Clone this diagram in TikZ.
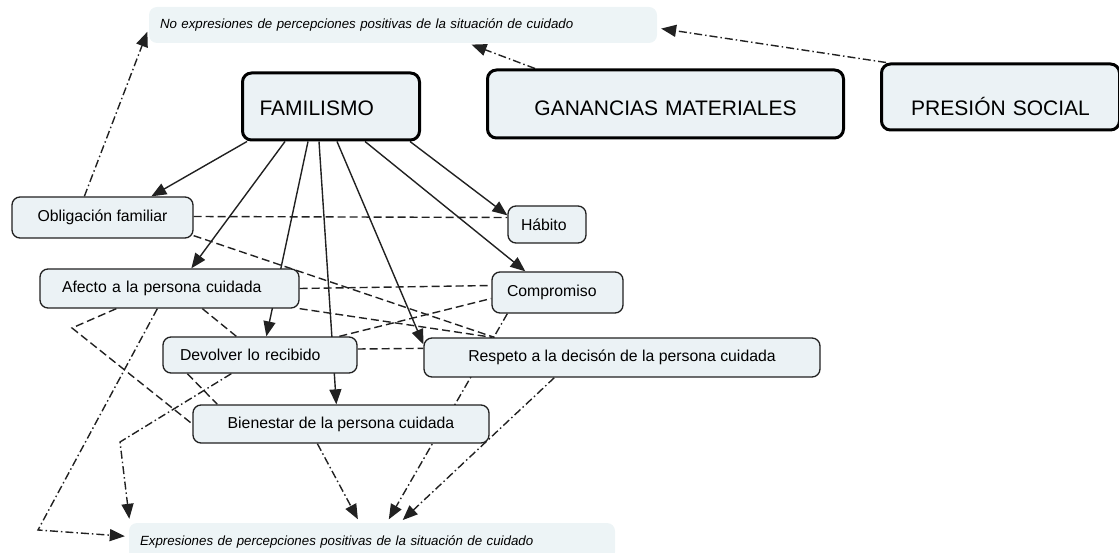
\documentclass[tikz,border=0pt]{standalone}
\usepackage{fontspec}
\setmainfont{Liberation Sans}
\usetikzlibrary{arrows.meta,calc}
\definecolor{BoxClr}{rgb}{0.92,0.95,0.96}
\definecolor{OutClr}{rgb}{0.93,0.955,0.965}
\definecolor{LineClr}{rgb}{0.13,0.13,0.13}
\pgfdeclarelayer{background}
\pgfsetlayers{background,main}

\begin{document}
\begin{tikzpicture}[x=1pt,y=-1pt,
  bigbox/.style={draw=black,line width=3pt,fill=BoxClr,rounded corners=9pt,inner sep=0pt,
    anchor=base west,font=\fontsize{21}{24}\selectfont},
  smallbox/.style={draw=LineClr,line width=1.3pt,fill=BoxClr,rounded corners=8pt,inner sep=0pt,
    font=\fontsize{15.8}{18}\selectfont},
  leftbox/.style={smallbox,align=left,inner xsep=#1},
  outbox/.style={fill=OutClr,rounded corners=8pt,inner xsep=11pt,inner ysep=0pt,align=left,
    font=\itshape\fontsize{13.3}{15}\selectfont},
  famarrow/.style={line width=1.4pt,draw=LineClr,-{Triangle[length=15pt,width=12pt]}},
  dashlink/.style={line width=1.4pt,draw=LineClr,dash pattern=on 8pt off 4pt},
  outarrow/.style={line width=1.4pt,draw=LineClr,dash pattern=on 8pt off 3pt on 1.5pt off 3pt,
    -{Triangle[length=15pt,width=12pt]},shorten >=4pt}]
\useasboundingbox (0,0) rectangle (1119,553);
\clip (0,0) rectangle (1119,553);

\node[outbox,text width=486pt,minimum height=36pt] (noexp) at (403,25)
  {No expresiones de percepciones positivas de la situación de cuidado};
\node[outbox,text width=464pt,minimum height=37pt] (exppos) at (372,541.5)
  {Expresiones de percepciones positivas de la situación de cuidado};

\node[bigbox,text width=143pt,inner xsep=17pt,align=left,text height=43pt,text depth=24pt] (fam) at (241,116) {FAMILISMO};
\node[bigbox,text width=356pt,align=center,text height=46pt,text depth=22pt] (gan) at (486,116) {GANANCIAS MATERIALES};
\node[bigbox,text width=238pt,align=center,text height=52pt,text depth=14pt] (pre) at (880,116) {PRESIÓN SOCIAL};

\node[smallbox,minimum width=181pt,minimum height=41pt] (obl) at (102.5,217.5) {Obligación familiar};
\node[leftbox=22pt,text width=215pt,minimum height=39pt] (afe) at (169.5,288.5) {Afecto a la persona cuidada};
\node[leftbox=17pt,text width=160pt,minimum height=36pt] (dev) at (260,355) {Devolver lo recibido};
\node[smallbox,minimum width=296pt,minimum height=38pt] (bie) at (341,424) {Bienestar de la persona cuidada};
\node[leftbox=13pt,text width=52pt,minimum height=37pt] (hab) at (547,224.5) {Hábito};
\node[leftbox=15pt,text width=101pt,minimum height=41pt] (com) at (557.5,292.5) {Compromiso};
\node[smallbox,minimum width=396pt,minimum height=39pt] (res) at (622,357.5) {Respeto a la decisón de la persona cuidada};

\coordinate (bendA) at (72,328);
\coordinate (bendB) at (120,442);
\coordinate (bendC) at (38,530);

\begin{pgfonlayer}{background}
% familismo
\draw[famarrow] ([xshift=6]fam.south west) -- ([xshift=140]obl.north west);
\draw[famarrow] ([xshift=44]fam.south west) -- ([xshift=152]afe.north west);
\draw[famarrow] ([xshift=67]fam.south west) -- ([xshift=104]dev.north west);
\draw[famarrow] ([xshift=78]fam.south west) -- ([xshift=144]bie.north west);
\draw[famarrow] ([xshift=96]fam.south west) -- ([yshift=-7]res.north west);
\draw[famarrow] ([xshift=124]fam.south west) -- ([xshift=34]com.north west);
\draw[famarrow] ([xshift=169]fam.south west) -- ([yshift=-10]hab.north west);

\draw[dashlink] ([yshift=1]obl.east) -- ([yshift=7]hab.west);
\draw[dashlink] ([yshift=3]obl.south east) -- ([xshift=71]res.north west);
\draw[dashlink] (afe.east) -- ([yshift=7]com.west);
\draw[dashlink] (afe.south east) -- ([xshift=69]res.north west);
\draw[dashlink] ([xshift=177]dev.north west) -- ([yshift=-6]com.west);
\draw[dashlink] ([yshift=6]dev.east) -- ([yshift=-11]res.north west);
\draw[dashlink] ([xshift=77]afe.south west) -- (bendA) -- (bie.west);
\draw[dashlink] ([xshift=163]afe.south west) -- ([xshift=74]dev.north west);
\draw[dashlink] ([xshift=25]dev.south west) -- ([xshift=25]bie.north west);

% percepciones
\draw[outarrow] ([xshift=73]obl.north west) -- ([yshift=-3]noexp.west);
\draw[outarrow] ([xshift=49]gan.north west) -- ([xshift=319]noexp.south west);
\draw[outarrow] ([xshift=6]pre.north west) -- ([yshift=-3]noexp.east);
\draw[outarrow] ([xshift=16]com.south west) -- ([xshift=258]exppos.north west);
\draw[outarrow] ([xshift=131]res.south west) -- ([xshift=271]exppos.north west);
\draw[outarrow] ([xshift=125]bie.south west) -- ([xshift=231]exppos.north west);
\draw[outarrow] ([xshift=69]dev.south west) -- (bendB) -- ([xshift=1]exppos.north west);
\draw[outarrow] ([xshift=118]afe.south west) -- (bendC) -- ([yshift=5]exppos.west);
\end{pgfonlayer}
\end{tikzpicture}
\end{document}
